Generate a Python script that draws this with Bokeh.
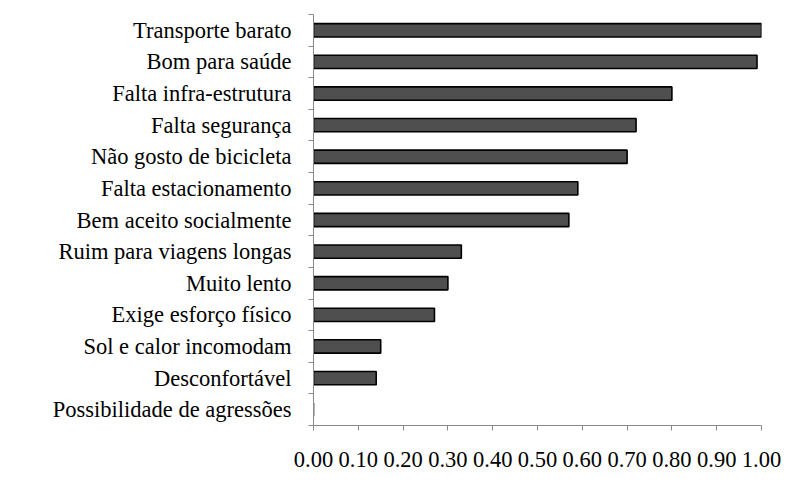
from bokeh.plotting import figure
from bokeh.models import Range1d, FixedTicker, NumeralTickFormatter, ColumnDataSource, CustomJSTickFormatter
from bokeh.embed import file_html
from bokeh.resources import INLINE

categories = [
    "Transporte barato",
    "Bom para saúde",
    "Falta infra-estrutura",
    "Falta segurança",
    "Não gosto de bicicleta",
    "Falta estacionamento",
    "Bem aceito socialmente",
    "Ruim para viagens longas",
    "Muito lento",
    "Exige esforço físico",
    "Sol e calor incomodam",
    "Desconfortável",
    "Possibilidade de agressões",
]
values = [1.00, 0.99, 0.80, 0.72, 0.70, 0.59, 0.57, 0.33, 0.30, 0.27, 0.15, 0.14, 0.00]
x_ticks = [0.0, 0.1, 0.2, 0.3, 0.4, 0.5, 0.6, 0.7, 0.8, 0.9, 1.0]

n = len(categories)
ypos = [n - 1 - i for i in range(n)]
src = ColumnDataSource(dict(y=ypos, v=values, name=categories))

FONT = "Liberation Serif"
AX = "#8a8a8a"

p = figure(width=786, height=481, output_backend="svg", toolbar_location=None,
           x_range=Range1d(0, 1.0), y_range=Range1d(-0.5, n - 0.5),
           min_border_left=313, min_border_top=14, min_border_right=25, min_border_bottom=56)
p.outline_line_color = None
p.xgrid.grid_line_color = None
p.ygrid.grid_line_color = None

p.hbar(y="y", right="v", left=0, height=0.42, source=src,
       fill_color="#4f4f4f", line_color="black", line_width=1.6)

# x axis
xa = p.xaxis[0]
xa.ticker = FixedTicker(ticks=x_ticks, minor_ticks=[])
xa.formatter = NumeralTickFormatter(format="0.00")
xa.axis_line_color = AX
xa.major_tick_line_color = AX
xa.major_tick_out = 5
xa.major_tick_in = 0
xa.minor_tick_line_color = None
xa.major_label_standoff = 21
xa.major_label_text_font = FONT
xa.major_label_text_font_size = "22.5px"
xa.major_label_text_color = "black"

# y axis
ya = p.yaxis[0]
ya.ticker = FixedTicker(ticks=ypos, minor_ticks=[k - 0.5 for k in range(n + 1)])
names_by_pos = [categories[n - 1 - k] for k in range(n)]
ya.formatter = CustomJSTickFormatter(args=dict(names=names_by_pos),
                                     code="const i = Math.round(tick); return names[i] || '';")
ya.axis_line_color = AX
ya.major_tick_line_color = None
ya.major_tick_out = 0
ya.major_tick_in = 0
ya.minor_tick_line_color = AX
ya.minor_tick_out = 5
ya.minor_tick_in = 0
ya.major_label_standoff = 17
ya.major_label_text_font = FONT
ya.major_label_text_font_size = "22.5px"
ya.major_label_text_color = "black"

open("out.html", "w").write(file_html(p, INLINE))
